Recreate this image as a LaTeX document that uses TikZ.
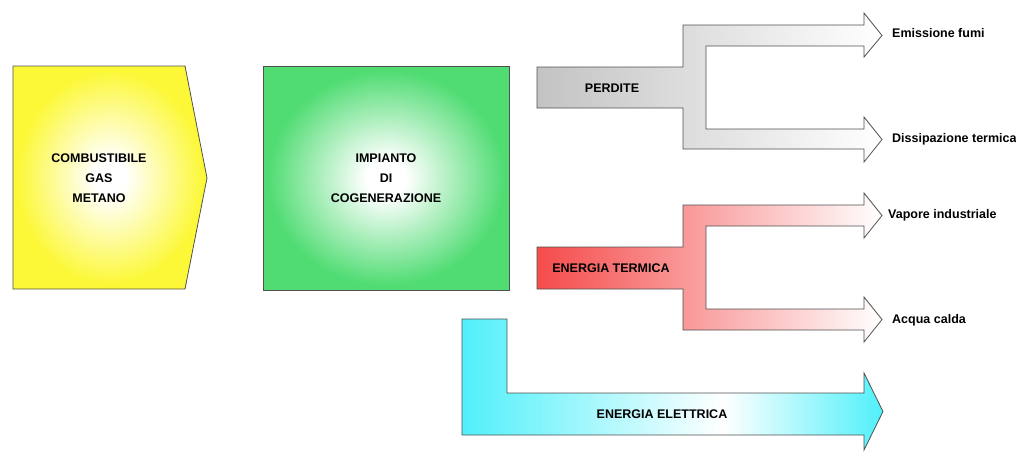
\documentclass[tikz,border=0pt]{standalone}
\usepackage{fontspec}
\setmainfont{Liberation Sans}
\definecolor{yel}{RGB}{252,248,55}
\definecolor{grn}{RGB}{80,220,115}
\definecolor{perd}{RGB}{195,195,195}
\definecolor{term}{RGB}{245,75,75}
\definecolor{cy}{RGB}{80,240,250}
\definecolor{edge}{RGB}{80,80,80}
\pgfdeclareradialshading{yelrad}{\pgfpoint{0bp}{0bp}}{color(0bp)=(white); color(4bp)=(white); color(24bp)=(yel); color(50bp)=(yel)}
\pgfdeclareradialshading{grnrad}{\pgfpoint{0bp}{0bp}}{color(0bp)=(white); color(4bp)=(white); color(24bp)=(grn); color(50bp)=(grn)}
\pgfdeclarehorizontalshading{elet}{100bp}{color(0bp)=(cy); color(25bp)=(cy); color(56bp)=(white); color(75bp)=(cy); color(100bp)=(cy)}
\tikzset{
  shape line/.style={draw=edge, line width=0.8pt, line join=miter},
  lbl/.style={font=\fontsize{12.5}{20}\selectfont\bfseries, text=black, inner sep=0pt, align=center},
  side/.style={font=\fontsize{12.5}{15}\selectfont\bfseries, text=black, inner sep=0pt, anchor=west}
}
\begin{document}
\begin{tikzpicture}[x=1pt,y=-1pt]
\useasboundingbox (0,0) rectangle (1016,451);
% fuel
\shade[shape line, shading=yelrad] (13,66) -- (185,66) -- (207,178) -- (185,289) -- (13,289) -- cycle;
\node[lbl] (comb) at (99,178) {COMBUSTIBILE\\GAS\\METANO};
% plant
\shade[shape line, shading=grnrad] (263,66) rectangle (509,290);
\node[lbl] (impianto) at (386,178) {IMPIANTO\\DI\\COGENERAZIONE};
% losses
\shade[shape line, left color=perd, right color=white]
  (537,67) -- (683,67) -- (683,25) -- (864,25) -- (864,13) -- (882,35.5) -- (864,57) -- (864,46)
  -- (706,46) -- (706,129) -- (864,129) -- (864,117) -- (882,139.5) -- (864,162) -- (864,149)
  -- (683,149) -- (683,108) -- (537,108) -- cycle;
\node[lbl] (perdite) at (612,88) {PERDITE};
\node[side] (fumi) at (892,33) {Emissione fumi};
\node[side] (diss) at (892,139) {Dissipazione termica};
% thermal energy
\shade[shape line, left color=term, right color=white]
  (537,247) -- (683,247) -- (683,205) -- (864,205) -- (864,193) -- (882,215.5) -- (864,238) -- (864,226)
  -- (706,226) -- (706,309) -- (864,309) -- (864,297) -- (882,319.5) -- (864,342) -- (864,330)
  -- (683,330) -- (683,289) -- (537,289) -- cycle;
\node[lbl] (termica) at (611,268) {ENERGIA TERMICA};
\node[side] (vapore) at (888,215) {Vapore industriale};
\node[side] (acqua) at (892,320) {Acqua calda};
% electric energy
\shade[shape line, shading=elet]
  (462,319) -- (507,319) -- (507,393) -- (864,393) -- (864,373) -- (883,411.5) -- (864,450)
  -- (864,435) -- (462,435) -- cycle;
\node[lbl] (elettrica) at (662,414) {ENERGIA ELETTRICA};
\end{tikzpicture}
\end{document}
